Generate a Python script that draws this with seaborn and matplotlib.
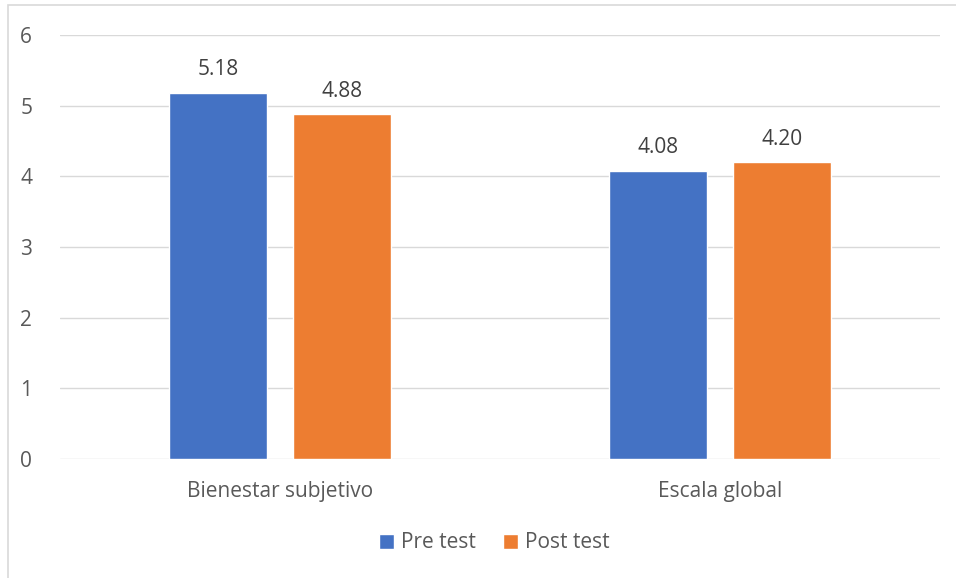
import numpy as np
import pandas as pd
import matplotlib.pyplot as plt
import seaborn as sns
from matplotlib.patches import Rectangle

categories = ["Bienestar subjetivo", "Escala global"]
series = ["Pre test", "Post test"]
pre_values = [5.18, 4.08]
post_values = [4.88, 4.20]
colors = ["#4472C4", "#ED7D31"]

df = pd.DataFrame({
    "categoria": categories * 2,
    "serie": [series[0]] * 2 + [series[1]] * 2,
    "valor": pre_values + post_values,
})

sns.set_theme(style="white")
plt.rcParams['font.family'] = ['Open Sans', 'DejaVu Sans']
text_color = "#595959"
fs = 15

fig = plt.figure(figsize=(9.56, 5.78), dpi=100)
ax = fig.add_axes([60 / 956, 1 - 459 / 578, 880 / 956, 424 / 578])

sns.barplot(data=df, x="categoria", y="valor", hue="serie", palette=colors,
            width=0.564, gap=0.21, ax=ax, legend=True, saturation=1)

for container in ax.containers:
    ax.bar_label(container, fmt="%.2f", padding=9, fontsize=fs, color="#404040")

ax.set_ylim(0, 6)
ax.set_xlim(-0.5, 1.5)
ax.set_yticks(range(0, 7))
ax.yaxis.grid(True, color="#D9D9D9", linewidth=1)
ax.set_axisbelow(True)
for s in ax.spines.values():
    s.set_visible(False)
ax.tick_params(axis="both", length=0, labelsize=fs, labelcolor=text_color)
ax.tick_params(axis="y", pad=20)
ax.tick_params(axis="x", pad=16)
ax.set_xlabel("")
ax.set_ylabel("")

handles, labels = ax.get_legend_handles_labels()
ax.legend_.remove()
fig.legend(handles, labels, loc="center", bbox_to_anchor=(0.517, 1 - 543 / 578),
           ncol=2, frameon=False, fontsize=fs, handlelength=0.7, handleheight=0.7,
           handletextpad=0.35, columnspacing=1.3, labelcolor=text_color)

fig.patches.append(Rectangle((8 / 956, -0.1), 1.2, 0.1 + 573 / 578, transform=fig.transFigure,
                             fill=False, edgecolor="#D9D9D9", linewidth=1.2))

fig.savefig("out.png", dpi=100)
